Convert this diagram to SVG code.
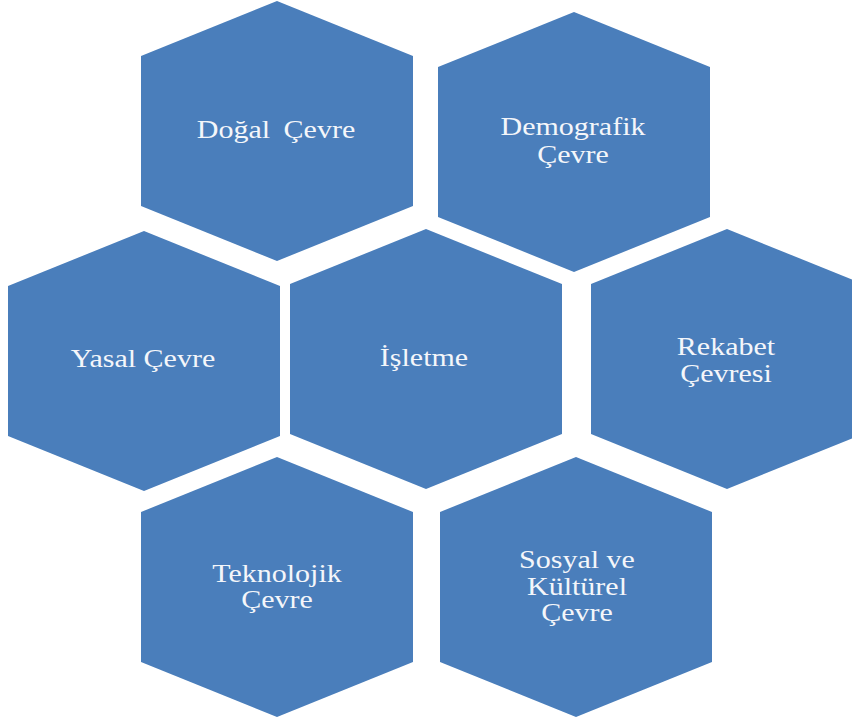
<svg xmlns="http://www.w3.org/2000/svg" width="852" height="724" viewBox="0 0 852 724">
<style>
.hex{fill:#4A7EBB;}
.t{font-family:"Liberation Serif","Times New Roman",serif;font-size:25px;fill:#F4F6FA;text-anchor:middle;}
</style>
<rect width="852" height="724" fill="#ffffff"/>
<g id="connectors"/>
<g id="dogal">
<polygon class="hex" points="277,1 413,56 413,206 277,261 141,206 141,56"/>
<text class="t" transform="translate(276,138) scale(1.2,1)" word-spacing="5">Doğal Çevre</text>
</g>
<g id="demografik">
<polygon class="hex" points="574,12 710,67 710,217 574,272 438,217 438,67"/>
<text class="t" transform="translate(573,135) scale(1.2,1)">Demografik</text>
<text class="t" transform="translate(573,163) scale(1.2,1)">Çevre</text>
</g>
<g id="yasal">
<polygon class="hex" points="144,231 280,286 280,436 144,491 8,436 8,286"/>
<text class="t" transform="translate(143,367) scale(1.2,1)">Yasal Çevre</text>
</g>
<g id="isletme">
<polygon class="hex" points="426,229 562,284 562,434 426,489 290,434 290,284"/>
<text class="t" transform="translate(424,366) scale(1.2,1)">İşletme</text>
</g>
<g id="rekabet">
<polygon class="hex" points="727,229 863,284 863,434 727,489 591,434 591,284"/>
<text class="t" transform="translate(726,355) scale(1.2,1)">Rekabet</text>
<text class="t" transform="translate(726,382) scale(1.2,1)">Çevresi</text>
</g>
<g id="teknolojik">
<polygon class="hex" points="277,457 413,512 413,662 277,717 141,662 141,512"/>
<text class="t" transform="translate(277,582) scale(1.2,1)">Teknolojik</text>
<text class="t" transform="translate(277,608) scale(1.2,1)">Çevre</text>
</g>
<g id="sosyal">
<polygon class="hex" points="576,457 712,512 712,662 576,717 440,662 440,512"/>
<text class="t" transform="translate(577,568) scale(1.2,1)">Sosyal ve</text>
<text class="t" transform="translate(577,595) scale(1.2,1)">Kültürel</text>
<text class="t" transform="translate(577,621) scale(1.2,1)">Çevre</text>
</g>
</svg>
